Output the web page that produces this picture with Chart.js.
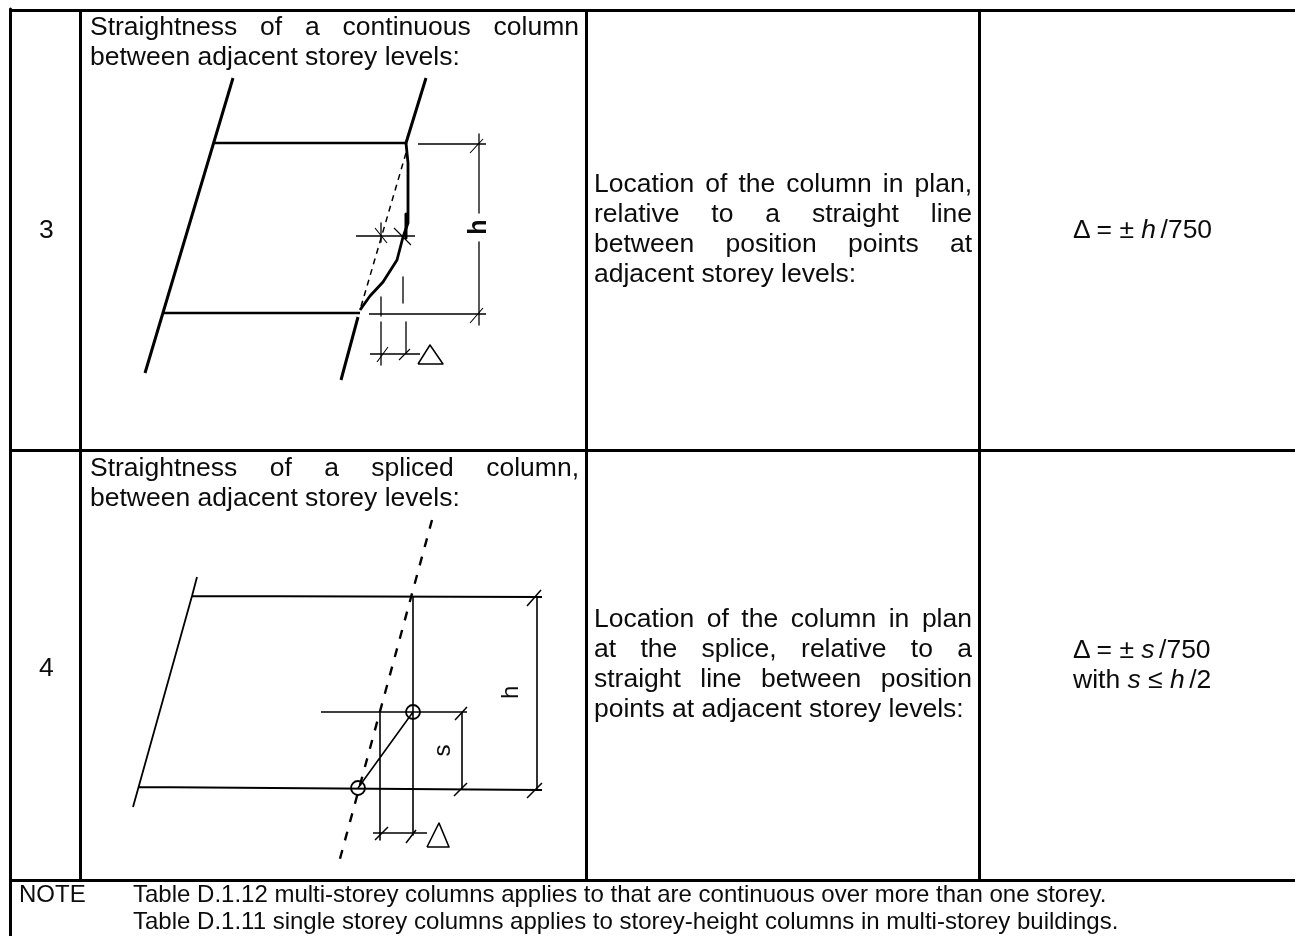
<!DOCTYPE html>
<html>
<head>
<meta charset="utf-8">
<title>Column straightness tolerances</title>
<script src="https://cdn.jsdelivr.net/npm/chart.js@4/dist/chart.umd.min.js"></script>
<style>
    html, body { margin: 0; padding: 0; background: #fff; overflow: hidden; }
    #wrap { position: relative; width: 1295px; height: 936px; }
    #sheet { position: absolute; left: 0; top: 0; }
    .t { position: absolute; white-space: nowrap; color: #0c0c0c; font-family: "Liberation Sans", Arial, sans-serif; line-height: 1.2; }
    .j { text-align: justify; text-align-last: justify; white-space: normal; }
    .r { transform-origin: center; transform: rotate(-90deg); }
</style>
</head>
<body>
<div id="wrap">
    <canvas id="sheet" width="1295" height="936"></canvas>
    <div id="labels"></div>
</div>
<script>
// --- DATA --- (axis units are the picture's own 1295 x 936 frame, null breaks a line)

const ruleX = [10.5, 1295, null, 10.5, 10.5, null, 80.5, 80.5, null, 586.5, 586.5, null, 979.5, 979.5, null, 10.5, 1295, null, 10.5, 1295];
const ruleY = [10.5, 10.5, null, 9, 936, null, 10.5, 880.5, null, 10.5, 880.5, null, 10.5, 880.5, null, 450.5, 450.5, null, 880.5, 880.5];

// row 3 sketch
const columnAX = [233, 145, null, 426, 406, null, 358, 341];
const columnAY = [78, 373, null, 78, 143, null, 317, 380];
const beamAX = [213, 406, null, 163, 360];
const beamAY = [143, 143, null, 313, 313];
const bowedAX = [406, 408, 408, 403, 397, 383, 370, 360];
const bowedAY = [143, 163, 223, 237, 260, 282, 296, 310];
const thickAX = [406, 406];
const thickAY = [214, 238];
const chordAX = [406, 360];
const chordAY = [153, 310];
const dimAX = [418, 486, null, 369, 486, null, 479, 479, null, 479, 479, null, 356, 415, null, 381, 381, null, 381, 381, null, 403, 403, null, 406, 406, null, 370, 420, null, 381, 381];
const dimAY = [144, 144, null, 314, 314, null, 134, 213, null, 242, 325, null, 236, 236, null, 223, 242, null, 297, 316, null, 277, 303, null, 322, 353, null, 354, 354, null, 322, 365];
const tickAX = [470, 483, null, 470, 483, null, 375, 387, null, 394, 411, null, 377, 388, null, 399, 410];
const tickAY = [153, 139, null, 323, 308, null, 228, 243, null, 228, 245, null, 362, 347, null, 360, 349];
const deltaAX = [418, 430, 443, 418];
const deltaAY = [364, 345, 364, 364];

// row 4 sketch
const beamBX = [197, 192, null, 192, 542, null, 138, 542, null, 192, 133];
const beamBY = [577, 596, null, 596, 597, null, 787, 790, null, 596, 807];
const chordBX = [432, 338];
const chordBY = [520, 866];
const dimBX = [413, 413, null, 321, 467, null, 380, 380, null, 462, 462, null, 537, 537, null, 413, 358, null, 373, 427];
const dimBY = [597, 835, null, 712, 712, null, 712, 840, null, 712, 789, null, 597, 790, null, 712, 788, null, 833, 833];
const tickBX = [527, 541, null, 527, 542, null, 455, 467, null, 454, 467, null, 375, 388, null, 406, 416];
const tickBY = [606, 590, null, 798, 783, null, 720, 707, null, 796, 783, null, 840, 827, null, 843, 830];
const deltaBX = [427, 439, 449, 427];
const deltaBY = [847, 823, 847, 847];
const spliceX = [413, 358];
const spliceY = [712, 788];

// text: [html, x, baseline, justified width]
const cellFont = 26.5;
const noteFont = 24;
const cellLines = [
    ['3', 39, 239],
    ['4', 39, 677],
    ['Straightness of a continuous column', 90, 36, 489],
    ['between adjacent storey levels:', 90, 66],
    ['Straightness of a spliced column,', 90, 477, 489],
    ['between adjacent storey levels:', 90, 507],
    ['Location of the column in plan,', 594, 193, 378],
    ['relative to a straight line', 594, 223, 378],
    ['between position points at', 594, 253, 378],
    ['adjacent storey levels:', 594, 283],
    ['Location of the column in plan', 594, 628, 378],
    ['at the splice, relative to a', 594, 658, 378],
    ['straight line between position', 594, 688, 378],
    ['points at adjacent storey levels:', 594, 718],
    ['Δ = ± <i>h</i>&#8202;&#8202;/750', 1073, 239],
    ['Δ = ± <i>s</i>&#8202;&#8202;/750', 1073, 659],
    ['with <i>s</i> ≤ <i>h</i>&#8202;&#8202;/2', 1073, 689]
];
const noteLines = [
    ['NOTE', 19, 903],
    ['Table D.1.12 multi-storey columns applies to that are continuous over more than one storey.', 133, 903],
    ['Table D.1.11 single storey columns applies to storey-height columns in multi-storey buildings.', 133, 930]
];

// --- HELPERS ---

function toPoints(xs, ys) {
    return xs.map((x, i) => ({ x: x, y: ys[i] }));
}

function stroke(xs, ys, width, dash) {
    return {
        type: 'line',
        data: toPoints(xs, ys),
        borderColor: '#000',
        borderWidth: width,
        borderDash: dash || [],
        borderCapStyle: 'butt',
        borderJoinStyle: 'round',
        pointRadius: 0,
        tension: 0,
        spanGaps: false,
        fill: false
    };
}

function addLabels(lines, size) {
    const box = document.getElementById('labels');
    lines.forEach(l => {
        const el = document.createElement('div');
        el.className = 't' + (l[3] ? ' j' : '');
        el.innerHTML = l[0];
        el.style.left = l[1] + 'px';
        // liberation sans baseline inside a 1.2 line box
        el.style.top = (l[2] - (0.0415 + 0.905) * size) + 'px';
        el.style.fontSize = size + 'px';
        if (l[3]) el.style.width = l[3] + 'px';
        box.appendChild(el);
    });
}

function addRotated(text, cx, cy, size, weight) {
    const el = document.createElement('div');
    el.className = 't r';
    el.textContent = text;
    el.style.left = (cx - size) + 'px';
    el.style.width = (size * 2) + 'px';
    el.style.textAlign = 'center';
    el.style.top = (cy - size * 0.6) + 'px';
    el.style.fontSize = size + 'px';
    el.style.fontWeight = weight;
    document.getElementById('labels').appendChild(el);
}

// --- CHART ---

new Chart(document.getElementById('sheet').getContext('2d'), {
    type: 'line',
    data: {
        datasets: [
            stroke(ruleX, ruleY, 3),
            stroke(columnAX, columnAY, 3),
            stroke(beamAX, beamAY, 2.6),
            stroke(bowedAX, bowedAY, 2.8),
            stroke(thickAX, thickAY, 3),
            stroke(chordAX, chordAY, 1.5, [6, 5]),
            stroke(dimAX, dimAY, 1.3),
            stroke(tickAX, tickAY, 1.1),
            stroke(deltaAX, deltaAY, 1.5),
            stroke(beamBX, beamBY, 1.8),
            stroke(chordBX, chordBY, 2.4, [9, 10]),
            stroke(dimBX, dimBY, 1.6),
            stroke(tickBX, tickBY, 1.5),
            stroke(deltaBX, deltaBY, 1.6),
            {
                type: 'scatter',
                data: toPoints(spliceX, spliceY),
                showLine: false,
                pointRadius: 7,
                pointBorderWidth: 1.8,
                pointBorderColor: '#000',
                pointBackgroundColor: 'rgba(0,0,0,0)'
            }
        ]
    },
    options: {
        responsive: false,
        animation: false,
        events: [],
        layout: { padding: 0, autoPadding: false },
        plugins: { legend: { display: false }, tooltip: { enabled: false }, title: { display: false } },
        scales: {
            x: { type: 'linear', display: false, min: 0, max: 1295 },
            y: { type: 'linear', display: false, min: 0, max: 936, reverse: true }
        }
    }
});

addLabels(cellLines, cellFont);
addLabels(noteLines, noteFont);
addRotated('h', 477, 227, 25, 'bold');
addRotated('h', 510, 692, 24, 'normal');
addRotated('s', 442, 750, 24, 'normal');
</script>
</body>
</html>
